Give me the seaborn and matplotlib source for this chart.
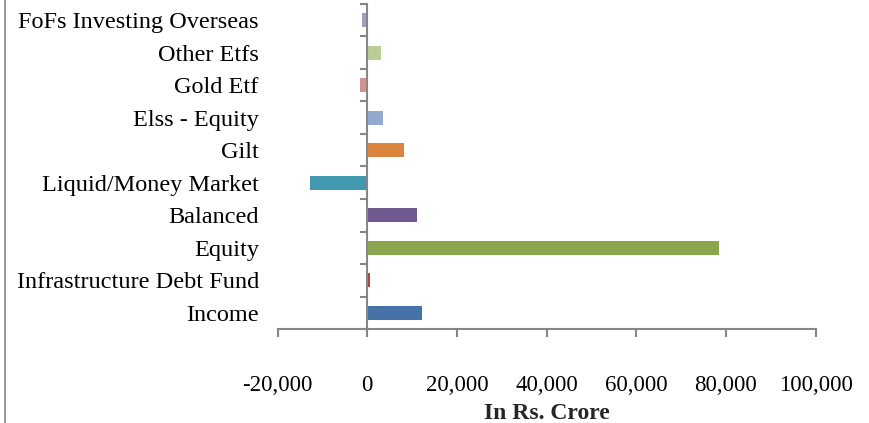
import matplotlib
matplotlib.use("Agg")
import matplotlib.pyplot as plt
import seaborn as sns
import pandas as pd
from matplotlib.lines import Line2D
from matplotlib.ticker import FuncFormatter, FixedLocator

# Data (top to bottom as drawn)
categories = ["FoFs Investing Overseas", "Other Etfs", "Gold Etf", "Elss - Equity",
              "Gilt", "Liquid/Money Market", "Balanced", "Equity",
              "Infrastructure Debt Fund", "Income"]
values = [-1100, 3100, -1500, 3600, 8200, -12700, 11100, 78500, 600, 12200]
colors = ["#A99BBD", "#B9CD96", "#D19392", "#93A9CF", "#DB843D",
          "#4198AF", "#71588F", "#89A54E", "#AA4643", "#4572A7"]
x_ticks = [-20000, 0, 20000, 40000, 60000, 80000, 100000]

df = pd.DataFrame({"cat": categories, "val": values})

sns.set_theme(style="white")
plt.rcParams["font.family"] = ["Liberation Serif", "DejaVu Serif"]

fig = plt.figure(figsize=(8.69, 4.23), dpi=100)
ax = fig.add_axes([277.5 / 869, (423 - 329) / 423, (815.5 - 277.5) / 869, (329 - 4) / 423])

sns.barplot(data=df, x="val", y="cat", hue="cat", palette=colors, legend=False,
            orient="h", width=0.42, saturation=1, linewidth=0, ax=ax)

gray = "#868686"
ax.set_xlim(x_ticks[0], x_ticks[-1])
ax.set_ylim(len(categories) - 0.5, -0.5)

for s in ["top", "right"]:
    ax.spines[s].set_visible(False)
ax.spines["left"].set_position(("data", 0))
ax.spines["left"].set_color(gray)
ax.spines["left"].set_linewidth(1.5)
ax.spines["bottom"].set_color(gray)
ax.spines["bottom"].set_linewidth(1.5)

ax.xaxis.set_major_locator(FixedLocator(x_ticks))
ax.xaxis.set_major_formatter(FuncFormatter(lambda v, p: f"{int(v):,}"))
ax.tick_params(axis="x", which="major", direction="out", length=6, width=1.5,
               color=gray, bottom=True, pad=27, labelsize=16.5, labelcolor="black")

ax.set_yticks(range(len(categories)))
ax.set_yticklabels(categories)
ax.yaxis.set_minor_locator(FixedLocator([i - 0.5 for i in range(len(categories) + 1)]))
ax.tick_params(axis="y", which="major", length=0, pad=78, labelsize=17.5, labelcolor="black")
ax.tick_params(axis="y", which="minor", direction="out", length=5, width=1.5,
               color=gray, left=True)

ax.set_ylabel("")
ax.set_xlabel("In Rs. Crore", fontsize=17, fontweight="bold", labelpad=5)

fig.add_artist(Line2D([4.5 / 869, 4.5 / 869], [0, 1], transform=fig.transFigure,
                      color=gray, linewidth=1.2))

fig.savefig("out.png", dpi=100)
